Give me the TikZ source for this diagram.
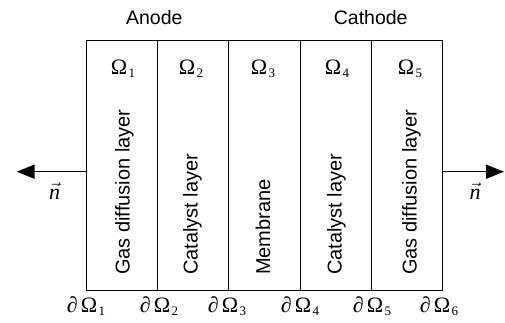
\documentclass[tikz,border=0pt]{standalone}
\usepackage{fontspec}
\setmainfont{Liberation Sans}
\newfontfamily\tms{Liberation Serif}
\newcommand\omsub[1]{{\fontsize{13}{14}\selectfont\raisebox{-3.3pt}{#1}}}
\newcommand\Om{Ω\kern1.5pt}
\newcommand\dOm{{\itshape ∂}\kern3pt Ω\kern1.5pt}
\usetikzlibrary{arrows.meta}
\begin{document}
\begin{tikzpicture}[x=1pt,y=1pt,
  cell/.style={draw, line width=1pt, minimum width=71.2pt, minimum height=250pt, inner sep=0pt, anchor=north west},
  lab/.style={rotate=90, anchor=base west, inner sep=0pt, font=\fontsize{20}{22}\selectfont},
  toplab/.style={font=\fontsize{19.5}{22}\selectfont, anchor=base, inner sep=0pt},
  mth/.style={font=\tms\fontsize{22}{24}\selectfont, anchor=base, inner sep=0pt},
  arr/.style={line width=1.5pt, -{Triangle[length=18pt,width=14pt]}}]
\useasboundingbox (0,0) rectangle (505,-322);
% cells
\node[cell] (c1) at (86,-40) {};
\node[cell] (c2) at (157.2,-40) {};
\node[cell] (c3) at (228.4,-40) {};
\node[cell] (c4) at (299.6,-40) {};
\node[cell] (c5) at (370.8,-40) {};
% header labels
\node[toplab] (anode) at (154.3,-24) {Anode};
\node[toplab] (cathode) at (370.7,-24) {Cathode};
% Omega labels
\node[mth] (o1) at (123,-74) {\Om\omsub{1}};
\node[mth] (o2) at (191,-74) {\Om\omsub{2}};
\node[mth] (o3) at (263,-74) {\Om\omsub{3}};
\node[mth] (o4) at (337,-74) {\Om\omsub{4}};
\node[mth] (o5) at (410,-74) {\Om\omsub{5}};
% rotated layer labels
\node[lab] (t1) at (129.5,-275) {Gas diffusion layer};
\node[lab] (t2) at (197.5,-275) {Catalyst layer};
\node[lab] (t3) at (270,-275) {Membrane};
\node[lab] (t4) at (341.7,-275) {Catalyst layer};
\node[lab] (t5) at (416.5,-275) {Gas diffusion layer};
% boundary labels
\node[mth] (b1) at (86,-312) {\dOm\omsub{1}};
\node[mth] (b2) at (159,-312) {\dOm\omsub{2}};
\node[mth] (b3) at (227,-312) {\dOm\omsub{3}};
\node[mth] (b4) at (300,-312) {\dOm\omsub{4}};
\node[mth] (b5) at (372,-312) {\dOm\omsub{5}};
\node[mth] (b6) at (439,-312) {\dOm\omsub{6}};
% normal arrows
\coordinate (L) at (16.7,-171.7);
\coordinate (R) at (504,-171.7);
\draw[arr] (c1.west |- L) -- (L);
\draw[arr] (c5.east |- R) -- (R);
\node[mth] (nl) at (54.7,-199) {$\vec{\mbox{\tms\itshape n}}$};
\node[mth] (nr) at (475,-199) {$\vec{\mbox{\tms\itshape n}}$};
\end{tikzpicture}
\end{document}
